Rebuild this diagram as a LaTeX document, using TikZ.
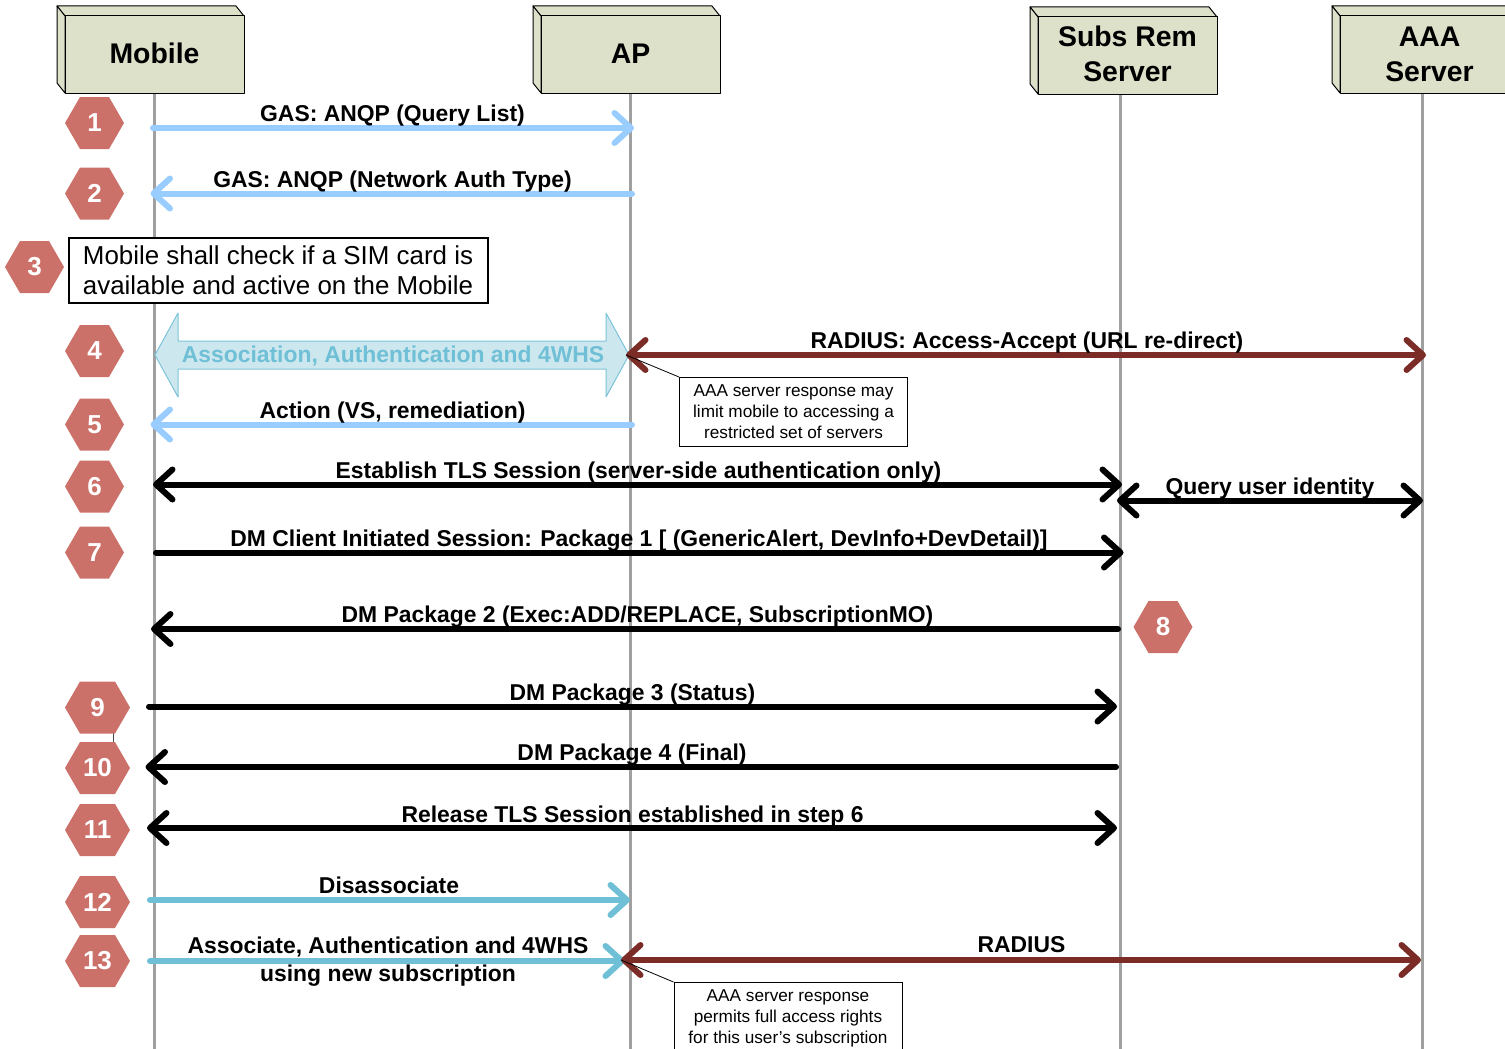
\documentclass[tikz,border=0pt]{standalone}
\usepackage{fontspec}
\setmainfont{Liberation Sans}
\usetikzlibrary{arrows.meta}
\definecolor{boxgreen}{HTML}{DDE1CA}
\definecolor{hexred}{HTML}{CC7169}
\definecolor{skyblue}{HTML}{99CCFF}
\definecolor{teal}{HTML}{6FC0D6}
\definecolor{brownred}{HTML}{7B2C26}
\definecolor{lifegray}{HTML}{A0A0A0}
\definecolor{bigfill}{HTML}{CDE7EE}
\definecolor{bigline}{HTML}{7CC4D8}
\tikzset{
  x=1pt,y=-1pt,
  actorbox/.style={draw=black,line width=1pt,fill=boxgreen,line join=round},
  actortext/.style={font=\fontsize{28.4}{35}\selectfont\bfseries,align=center,inner sep=0pt},
  life/.style={draw=lifegray,line width=3.5pt},
  hexshape/.style={fill=hexred},
  hextext/.style={font=\fontsize{26}{30}\selectfont\bfseries,text=white,inner sep=0pt},
  msg/.style={font=\fontsize{22.9}{28}\selectfont\bfseries,align=center,inner sep=0pt,text=black},
  tipbar/.tip={Straight Barb[length=16.5pt,width=30pt,line width=6pt,round]},
  flow/.style={line width=6pt,line cap=round},
  bluef/.style={flow,draw=skyblue},
  tealf/.style={flow,draw=teal},
  brownf/.style={flow,draw=brownred},
  blackf/.style={flow,draw=black},
  note/.style={draw=black,line width=1pt,fill=white,font=\fontsize{17.2}{21}\selectfont,align=center,inner sep=0pt},
  leader/.style={draw=black,line width=0.8pt},
}
\newcommand{\actornode}[7]{% name, left, top, right, bottom, text shift y, text
  \fill[boxgreen] (#2-8,#3-10) -- (#4-8,#3-10) -- (#4,#3) -- (#4,#5) -- (#2,#5) -- (#2-8,#5-10) -- cycle;
  \draw[actorbox] (#2-8,#3-10) -- (#4-8,#3-10) -- (#4,#3) -- (#2,#3) -- cycle;
  \draw[actorbox] (#2-8,#3-10) -- (#2,#3) -- (#2,#5) -- (#2-8,#5-10) -- cycle;
  \draw[actorbox] (#2,#3) rectangle (#4,#5);
  \node[actortext] (#1) at ({(#2+#4)/2},{(#3+#5)/2+#6}) {#7};
}
\newcommand{\hexnode}[5]{% name, cx, cy, half width, text
  \fill[hexshape] (#2-#4,#3) -- (#2-#4+15,#3-26) -- (#2+#4-15,#3-26) -- (#2+#4,#3) -- (#2+#4-15,#3+26) -- (#2-#4+15,#3+26) -- cycle;
  \node[hextext] (#1) at (#2,#3) {#5};
}
\begin{document}
\begin{tikzpicture}
\useasboundingbox (0,0) rectangle (1505,1049);
\clip (0,0) rectangle (1505,1049);
% lifelines
\coordinate (mobileTop) at (154.5,93);
\coordinate (mobileEnd) at (154.5,1049);
\coordinate (apTop) at (630.5,93);
\coordinate (apEnd) at (630.5,1049);
\coordinate (subsTop) at (1120.5,94);
\coordinate (subsEnd) at (1120.5,1049);
\coordinate (aaaTop) at (1422.5,93);
\coordinate (aaaEnd) at (1422.5,1049);
\draw[life] (mobileTop) -- (mobileEnd);
\draw[life] (apTop) -- (apEnd);
\draw[life] (subsTop) -- (subsEnd);
\draw[life] (aaaTop) -- (aaaEnd);
% actors
\actornode{mobile}{65}{16}{244}{93}{-1}{Mobile}
\actornode{ap}{541}{16}{720}{93}{-1}{AP}
\actornode{subs}{1038}{17}{1217}{94}{-2}{Subs Rem\\Server}
\actornode{aaa}{1340}{16}{1519}{93}{0}{AAA\\Server}
% connector between hexagons 9 and 10
\coordinate (linkA) at (113.5,730);
\coordinate (linkB) at (113.5,745);
\draw[draw=black!70,line width=0.8pt] (linkA) -- (linkB);
% hexagons
\hexnode{h1}{94.5}{123}{29.5}{1}
\hexnode{h2}{94.5}{193.5}{29.5}{2}
\hexnode{h3}{34.5}{267}{29.5}{3}
\hexnode{h4}{94.5}{351}{29.5}{4}
\hexnode{h5}{94.5}{424.5}{29.5}{5}
\hexnode{h6}{94.5}{486.5}{29.5}{6}
\hexnode{h7}{94.5}{552.5}{29.5}{7}
\hexnode{h8}{1163}{627}{29.5}{8}
\hexnode{h9}{97.5}{707.5}{32.5}{9}
\hexnode{h10}{97.5}{768}{32.5}{10}
\hexnode{h11}{97.5}{830}{32.5}{11}
\hexnode{h12}{97.5}{902}{32.5}{12}
\hexnode{h13}{97.5}{961}{32.5}{13}
% step 3 box
\node[draw=black,line width=2pt,fill=white,minimum width=419pt,minimum height=65pt,inner sep=0pt,align=center,font=\fontsize{25.9}{30}\selectfont] (check) at (278,270.5) {Mobile shall check if a SIM card is\\available and active on the Mobile};
% big double arrow
\fill[bigfill] (155,355) -- (178,313) -- (178,341) -- (606,341) -- (606,313) -- (629,355) -- (606,397) -- (606,369) -- (178,369) -- (178,397) -- cycle;
\draw[draw=bigline,line width=1pt,line join=round] (155,355) -- (178,313) -- (178,341) -- (606,341) -- (606,313) -- (629,355) -- (606,397) -- (606,369) -- (178,369) -- (178,397) -- cycle;
\node[font=\fontsize{22.9}{28}\selectfont\bfseries,text=teal,inner sep=0pt] (assoc) at (393,356) {Association, Authentication and 4WHS};
% coordinates for arrows
\coordinate (a1s) at (153,128); \coordinate (a1e) at (634,128);
\coordinate (a2s) at (632,193.5); \coordinate (a2e) at (150.5,193.5);
\coordinate (rAs) at (626,355); \coordinate (rAe) at (1426,355);
\coordinate (a5s) at (632,424.5); \coordinate (a5e) at (150.5,424.5);
\coordinate (a6s) at (153,484.5); \coordinate (a6e) at (1122,484.5);
\coordinate (qs) at (1117,500.5); \coordinate (qe) at (1423,500.5);
\coordinate (a7s) at (156,552.5); \coordinate (a7e) at (1123.5,552.5);
\coordinate (a8s) at (1118,629); \coordinate (a8e) at (151,629);
\coordinate (a9s) at (149,706.5); \coordinate (a9e) at (1117,706.5);
\coordinate (a10s) at (1116,767); \coordinate (a10e) at (145.5,767);
\coordinate (a11s) at (147,828); \coordinate (a11e) at (1117,828);
\coordinate (a12s) at (150,900); \coordinate (a12e) at (630,900);
\coordinate (a13s) at (150,961); \coordinate (a13e) at (625,961);
\coordinate (r13s) at (621,960); \coordinate (r13e) at (1421,960);
% callouts (under arrows)
\node[note,minimum width=228pt,minimum height=68.5pt] (n1) at (793.5,411.75) {AAA server response may\\limit mobile to accessing a\\restricted set of servers};
\node[note,minimum width=228pt,minimum height=72.5pt] (n2) at (788,1018.75) {AAA server response\\permits full access rights\\for this user's subscription};
% arrows
\draw[bluef,-{tipbar}] (a1s) -- (a1e);
\draw[bluef,-{tipbar}] (a2s) -- (a2e);
\draw[brownf,{tipbar}-{tipbar}] (rAs) -- (rAe);
\draw[bluef,-{tipbar}] (a5s) -- (a5e);
\draw[blackf,{tipbar}-{tipbar}] (a6s) -- (a6e);
\draw[blackf,{tipbar}-{tipbar}] (qs) -- (qe);
\draw[blackf,-{tipbar}] (a7s) -- (a7e);
\draw[blackf,-{tipbar}] (a8s) -- (a8e);
\draw[blackf,-{tipbar}] (a9s) -- (a9e);
\draw[blackf,-{tipbar}] (a10s) -- (a10e);
\draw[blackf,{tipbar}-{tipbar}] (a11s) -- (a11e);
\draw[tealf,-{tipbar}] (a12s) -- (a12e);
\draw[tealf,-{tipbar}] (a13s) -- (a13e);
\draw[brownf,{tipbar}-{tipbar}] (r13s) -- (r13e);
% leaders
\draw[leader] (rAs) -- (n1.north west);
\draw[leader] (r13s) -- (n2.north west);
% labels
\node[msg] (l1) at (392.5,116) {GAS: ANQP (Query List)};
\node[msg] (l2) at (392.5,182) {GAS: ANQP (Network Auth Type)};
\node[msg] (lr) at (1027,343) {RADIUS: Access-Accept (URL re-direct)};
\node[msg] (l5) at (392.5,413) {Action (VS, remediation)};
\node[msg] (l6) at (638.5,473) {Establish TLS Session (server-side authentication only)};
\node[msg] (lq) at (1270,489) {Query user identity};
\node[msg] (l7) at (639,541) {DM Client Initiated Session: Package 1 [ (GenericAlert, DevInfo+DevDetail)]};
\node[msg] (l8) at (637.5,617) {DM Package 2 (Exec:ADD/REPLACE, SubscriptionMO)};
\node[msg] (l9) at (632.5,695) {DM Package 3 (Status)};
\node[msg] (l10) at (632,755) {DM Package 4 (Final)};
\node[msg] (l11) at (632.5,817) {Release TLS Session established in step 6};
\node[msg] (l12) at (389,885) {Disassociate};
\node[msg] (l13) at (388,962) {Associate, Authentication and 4WHS\\using new subscription};
\node[msg] (lr13) at (1021.5,945) {RADIUS};
\end{tikzpicture}
\end{document}
